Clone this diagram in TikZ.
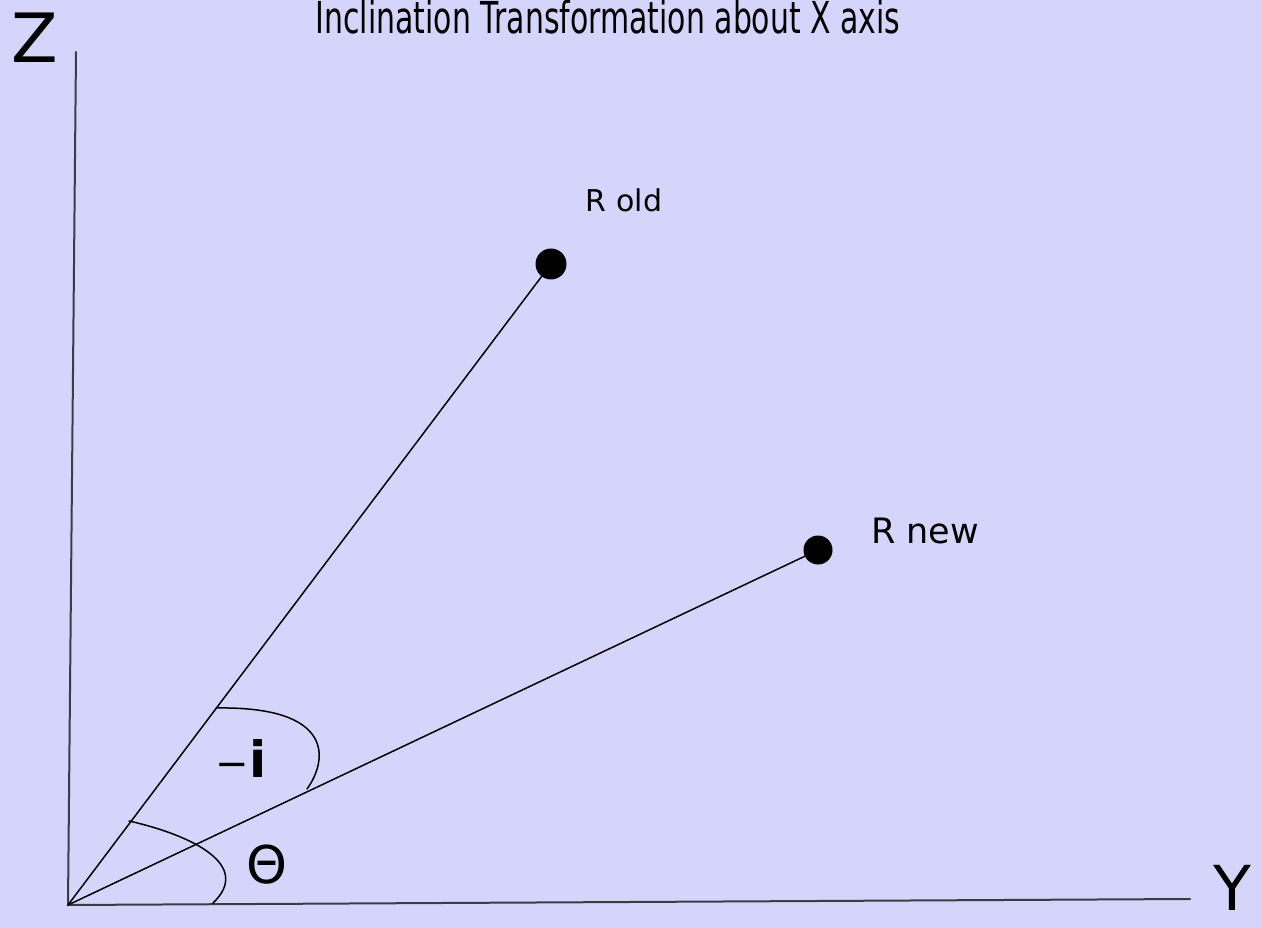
\documentclass[tikz,border=0pt]{standalone}
\usepackage{fontspec}
\setmainfont{DejaVu Sans}
\newfontfamily\titlefont[FakeStretch=0.68]{DejaVu Sans}
\definecolor{bgcol}{RGB}{213,213,252}
\definecolor{axiscol}{RGB}{60,60,70}

\begin{document}
\begin{tikzpicture}[x=1pt,y=-1pt,line cap=round,
        dot/.style={circle,fill=black,inner sep=0pt,minimum size=#1},
        lbl/.style={font=\fontsize{#1}{#1}\selectfont,inner sep=0pt,anchor=base}]
        % draw the background
        \fill[bgcol] (0,0) rectangle (1262,928);
        \useasboundingbox (0,0) rectangle (1262,928);

        % draw the title
        \node[lbl=44,font=\titlefont\fontsize{44}{44}\selectfont] (title) at (608,34) {Inclination Transformation about X axis};

        % draw the coordinates
        \coordinate (O) at (68,905);
        \coordinate (ztop) at (76,52);
        \coordinate (yend) at (1190,899);
        \draw[axiscol,line width=2pt] (ztop) -- (O) -- (yend);
        \node[lbl=68] (zlabel) at (35,63) {Z};
        \node[lbl=62] (ylabel) at (1232,910) {Y};

        % draw the points
        \node[dot=31] (rold) at (551,264) {};
        \node[dot=29] (rnew) at (818,550) {};
        \draw[line width=1.5pt] (O) -- (rold.center);
        \draw[line width=1.5pt] (O) -- (rnew.center);
        \node[lbl=30] (roldlabel) at (624,212) {R old};
        \node[lbl=35] (rnewlabel) at (925,543) {R new};

        % draw the angles
        \draw[line width=1.5pt] (216,708) .. controls (335,706) and (328,760) .. (307,789);
        \draw[line width=1.5pt] (129,821) .. controls (195,836) and (252,866) .. (213,903);
        \node[lbl=50] (ilabel) at (241,777) {{\fontsize{40}{40}\selectfont −}\textbf{i}};
        \node[lbl=52] (thetalabel) at (267,883) {Θ};
\end{tikzpicture}
\end{document}
